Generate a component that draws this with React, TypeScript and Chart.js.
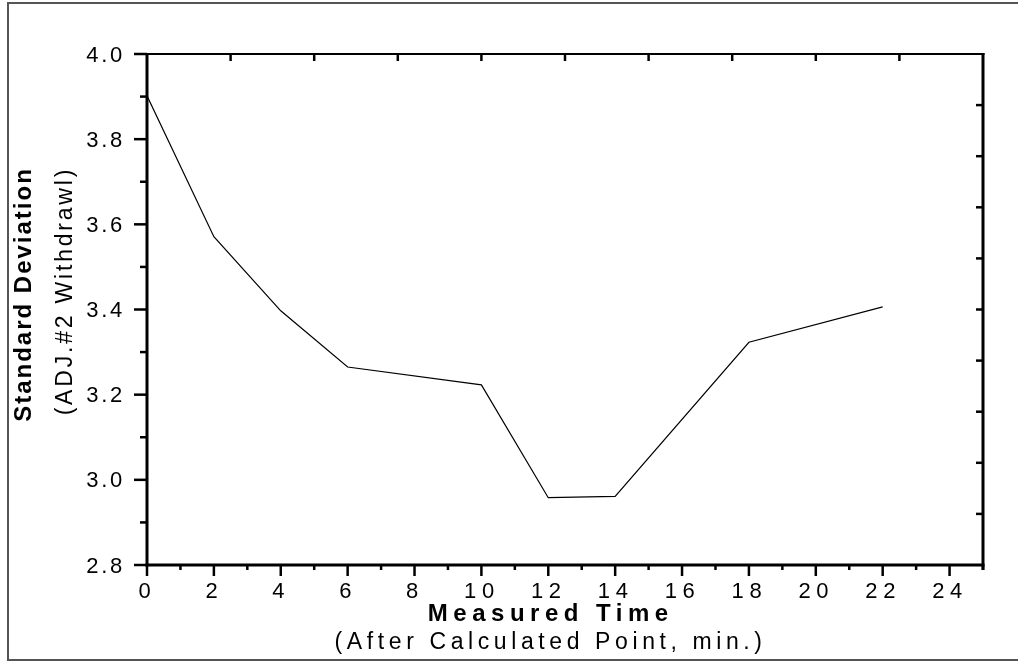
import React, { useEffect, useRef } from "react";
import { Chart, registerables } from "chart.js";

Chart.register(...registerables);

// ---- data ----
const times = [0, 2, 4, 6, 10, 12, 14, 18, 22];
const stdDev = [3.902, 3.571, 3.397, 3.265, 3.223, 2.958, 2.961, 3.323, 3.406];

// ---- axes ----
const xMin = 0;
const xMax = 25;
const xStep = 1;
const yMin = 2.8;
const yMax = 4.0;
const yStep = 0.1;
const frameDivMax = 10;
const frameInnerTicks = [1, 2, 3, 4, 5, 6, 7, 8, 9];

// ---- texts ----
const xTitle = "Measured Time";
const xSubtitle = "(After Calculated Point, min.)";
const yTitle = "Standard Deviation";
const ySubtitle = "(ADJ.#2 Withdrawl)";

const FONT = "'Liberation Sans', Arial, Helvetica, sans-serif";

function line(ctx: CanvasRenderingContext2D, x1: number, y1: number, x2: number, y2: number) {
  ctx.beginPath();
  ctx.moveTo(x1, y1);
  ctx.lineTo(x2, y2);
  ctx.stroke();
}

function spacedText(
  ctx: CanvasRenderingContext2D,
  text: string,
  x: number,
  y: number,
  font: string,
  spacing: number,
  rotate = false
) {
  ctx.save();
  ctx.font = font;
  (ctx as any).letterSpacing = spacing + "px";
  ctx.textAlign = "center";
  ctx.textBaseline = "alphabetic";
  ctx.fillStyle = "#000";
  ctx.translate(x, y);
  if (rotate) ctx.rotate(-Math.PI / 2);
  ctx.fillText(text, spacing / 2, 0);
  ctx.restore();
}

const framePlugin = {
  id: "framePlugin",
  beforeDraw(chart: any) {
    (chart.ctx as any).letterSpacing = "2.7px"; // y tick labels (drawn before datasets)
  },
  beforeDatasetsDraw(chart: any) {
    (chart.ctx as any).letterSpacing = "5.6px"; // x tick labels (drawn after datasets)
  },
  afterDraw(chart: any) {
    const ctx: CanvasRenderingContext2D = chart.ctx;
    const a = chart.chartArea;
    const { x, y, x2, y2 } = chart.scales;
    ctx.save();
    (ctx as any).letterSpacing = "0px";
    ctx.lineCap = "butt";

    // outer frame
    ctx.strokeStyle = "#555";
    ctx.lineWidth = 2;
    ctx.beginPath();
    ctx.moveTo(1030, 3);
    ctx.lineTo(8, 3);
    ctx.lineTo(8, 660);
    ctx.lineTo(1030, 660);
    ctx.stroke();

    // plot frame
    ctx.strokeStyle = "#000";
    ctx.lineWidth = 3;
    line(ctx, a.left, a.top - 1, a.left, a.bottom + 1.5);
    line(ctx, a.left - 1.5, a.bottom, a.right + 1.5, a.bottom);
    line(ctx, a.right, a.top - 1, a.right, a.bottom + 5);
    ctx.lineWidth = 2;
    line(ctx, a.left, a.top, a.right + 1.5, a.top);

    // ticks
    ctx.lineWidth = 2.5;
    y.ticks.forEach((t: any, i: number) => {
      const py = y.getPixelForValue(t.value);
      const len = i % 2 === 0 ? 13 : 7;
      line(ctx, a.left - len, py, a.left, py);
    });
    x.ticks.forEach((t: any, i: number) => {
      const px = x.getPixelForValue(t.value);
      const len = i % 2 === 0 ? 11 : 5;
      line(ctx, px, a.bottom, px, a.bottom + len);
    });
    frameInnerTicks.forEach((v) => {
      const px = x2.getPixelForValue(v);
      line(ctx, px, a.top, px, a.top + 7);
      const py = y2.getPixelForValue(v);
      line(ctx, a.right - 7, py, a.right, py);
    });
    ctx.restore();

    // axis titles
    spacedText(ctx, xTitle, 548, 621, `bold 24px ${FONT}`, 5.5);
    spacedText(ctx, xSubtitle, 548.3, 649, `23px ${FONT}`, 4.6);
    spacedText(ctx, yTitle, 31, 295.5, `bold 24px ${FONT}`, 2, true);
    spacedText(ctx, ySubtitle, 71.5, 292.5, `23px ${FONT}`, 2.8, true);
  },
};

export default function App() {
  const ref = useRef<HTMLCanvasElement | null>(null);

  useEffect(() => {
    if (!ref.current) return;
    const chart = new Chart(ref.current, {
      type: "line",
      data: {
        datasets: [
          {
            data: times.map((t, i) => ({ x: t, y: stdDev[i] })),
            borderColor: "#000",
            borderWidth: 1.2,
            pointRadius: 0,
            fill: false,
            tension: 0,
            xAxisID: "x",
            yAxisID: "y",
          },
        ],
      },
      options: {
        animation: false,
        responsive: false,
        devicePixelRatio: 1,
        layout: { padding: { top: 54, right: 35, left: 0, bottom: 0 } },
        plugins: {
          legend: { display: false },
          tooltip: { enabled: false },
        },
        scales: {
          x: {
            type: "linear",
            position: "bottom",
            min: xMin,
            max: xMax,
            afterFit: (s: any) => {
              s.height = 98;
            },
            grid: { display: false, drawTicks: false },
            border: { display: false },
            ticks: {
              stepSize: xStep,
              autoSkip: false,
              maxRotation: 0,
              minRotation: 0,
              padding: 14,
              labelOffset: 0.5,
              z: 1,
              color: "#000",
              font: { family: FONT, size: 22 },
              callback: (v: any) => (Number(v) % 2 === 0 ? String(v) : ""),
            },
          },
          y: {
            type: "linear",
            position: "left",
            min: yMin,
            max: yMax,
            afterFit: (s: any) => {
              s.width = 147;
            },
            grid: { display: false, drawTicks: false },
            border: { display: false },
            ticks: {
              stepSize: yStep,
              autoSkip: false,
              padding: 22,
              labelOffset: 1.5,
              color: "#000",
              font: { family: FONT, size: 22 },
              callback: (v: any, i: number) => (i % 2 === 0 ? Number(v).toFixed(1) : ""),
            },
          },
          x2: { type: "linear", position: "top", min: 0, max: frameDivMax, display: false },
          y2: { type: "linear", position: "right", min: 0, max: frameDivMax, display: false },
        },
      } as any,
      plugins: [framePlugin],
    });
    return () => chart.destroy();
  }, []);

  return (
    <div style={{ position: "absolute", left: 0, top: 0, width: 1018, height: 663, background: "#fff" }}>
      <canvas ref={ref} width={1018} height={663} style={{ display: "block" }} />
    </div>
  );
}
